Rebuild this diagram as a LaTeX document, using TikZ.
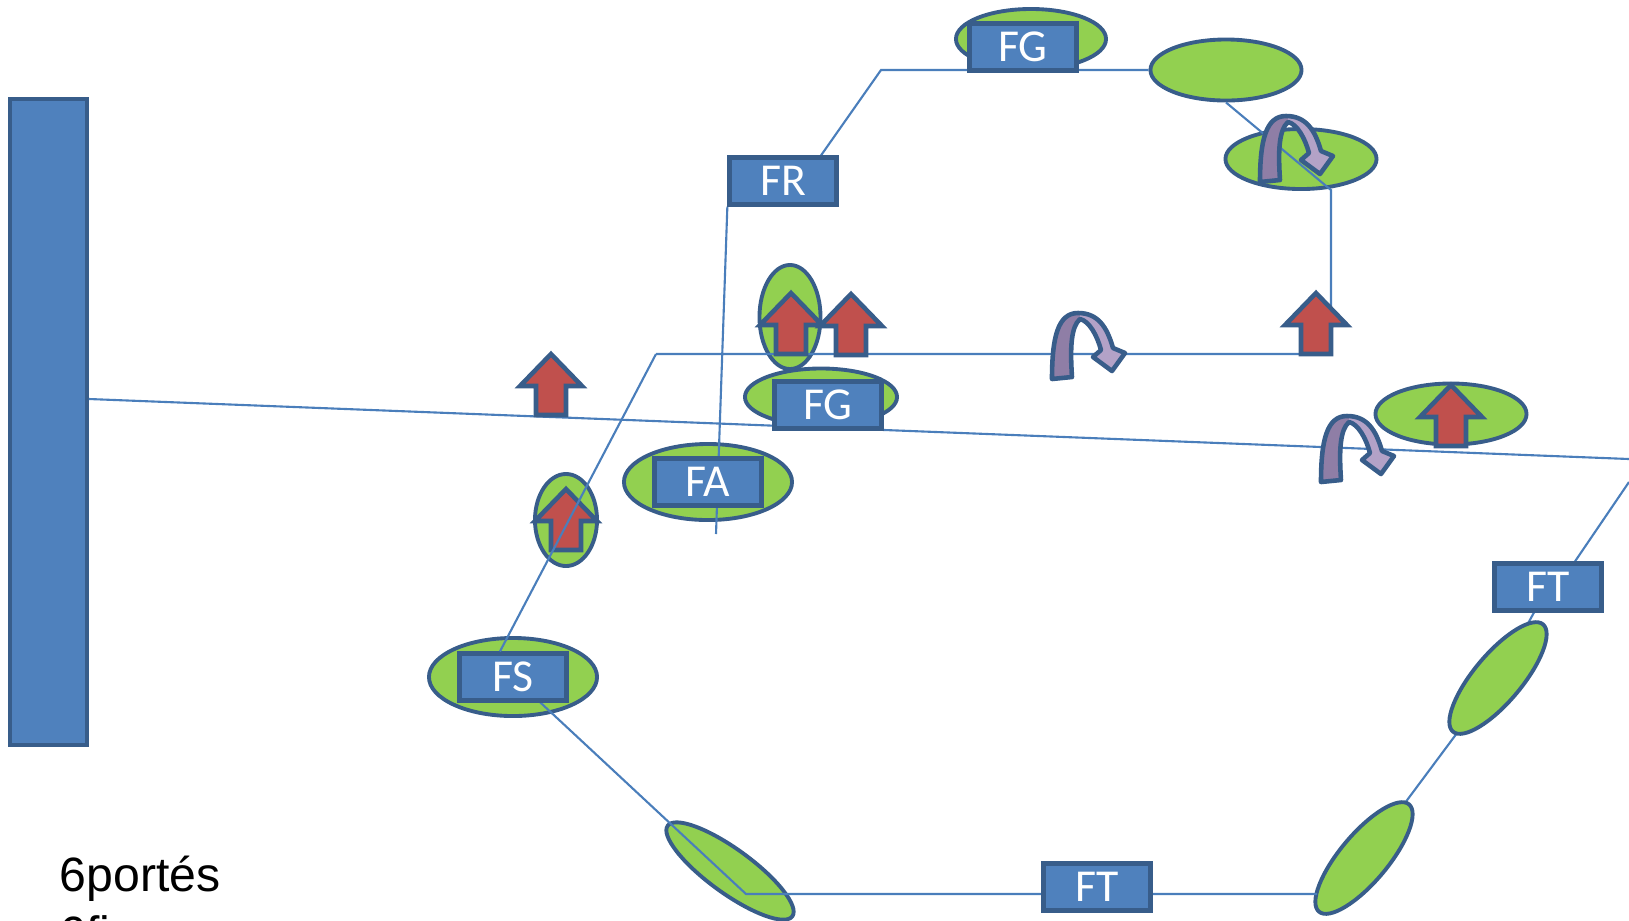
\documentclass[tikz,border=0pt]{standalone}
\usepackage{fontspec}
\newfontfamily\tagfont{Carlito}
\newfontfamily\notefont{Liberation Sans}
\usetikzlibrary{shapes.geometric,positioning}
\definecolor{steel}{HTML}{4F81BD}
\definecolor{edge}{HTML}{385D8A}
\definecolor{leaf}{HTML}{92D050}
\definecolor{brick}{HTML}{C0504D}
\definecolor{wire}{HTML}{4A7EBB}
\definecolor{lilac}{HTML}{B3A2C7}
\definecolor{lilacdark}{HTML}{8F7EA6}
\pgfdeclarelayer{back}
\pgfdeclarelayer{front}
\pgfsetlayers{back,main,front}

\begin{document}
\begin{tikzpicture}[
        x=0.01cm, y=-0.01cm,
        pad/.style={ellipse, draw=edge, fill=leaf, line width=1.1pt, inner sep=0pt},
        tag/.style={rectangle, draw=edge, fill=steel, line width=1.2pt, inner sep=0pt,
            minimum width=1.07cm, minimum height=0.47cm, text=white,
            font=\tagfont\fontsize{13}{14}\selectfont},
        wallbar/.style={rectangle, draw=edge, fill=steel, line width=1pt,
            minimum width=0.77cm, minimum height=6.46cm},
        link/.style={draw=wire, line width=0.6pt},
        note/.style={inner sep=0pt, anchor=base west, font=\notefont\fontsize{13.7}{15}\selectfont},
        lift/.pic={\filldraw[fill=brick, draw=edge, line width=1.3pt]
            (0,1) -- (31,33) -- (15,33) -- (15,62) -- (-15,62) -- (-15,33) -- (-31,33) -- cycle;},
        uturn/.pic={\filldraw[fill=lilac, draw=edge, line width=1.3pt, line join=round,
            path picture={\fill[lilacdark] (path picture bounding box.south west)
                rectangle ([xshift=0.28cm]path picture bounding box.north west);}]
            (-10,2) -- (10,0) .. controls (8,-30) and (9,-50) .. (18,-58)
            .. controls (27,-56) and (35,-42) .. (39,-27) -- (31,-20) -- (50,-6)
            -- (63,-24) -- (51,-29) .. controls (45,-50) and (36,-64) .. (16,-64)
            .. controls (-4,-64) and (-10,-40) .. (-10,2) -- cycle;},
    ]
	\useasboundingbox (0,0) rectangle (1629,920);

	\node[wallbar] (wall) at (48.5,422) {};

	\node[pad, minimum width=1.50cm, minimum height=0.60cm] (p_fg_a) at (1031,39) {};
	\node[pad, minimum width=1.51cm, minimum height=0.61cm] (p_top) at (1226,70) {};
	\node[pad, minimum width=1.51cm, minimum height=0.60cm] (p_turn) at (1301,159) {};
	\node[pad, minimum width=0.61cm, minimum height=1.04cm] (p_up) at (790,317) {};
	\node[pad, minimum width=1.52cm, minimum height=0.57cm] (p_fg_b) at (821,397) {};
	\node[pad, minimum width=1.68cm, minimum height=0.76cm] (p_fa) at (708,482) {};
	\node[pad, minimum width=0.62cm, minimum height=0.92cm] (p_left) at (566,520) {};
	\node[pad, minimum width=1.68cm, minimum height=0.78cm] (p_fs) at (513,677) {};
	\node[pad, minimum width=1.51cm, minimum height=0.61cm] (p_right) at (1451,414) {};
	\node[pad, minimum width=1.54cm, minimum height=0.44cm, rotate=-36] (p_low) at (730,871) {};
	\node[pad, minimum width=1.40cm, minimum height=0.48cm, rotate=50] (p_br_a) at (1364,858) {};
	\node[pad, minimum width=1.40cm, minimum height=0.48cm, rotate=50] (p_br_b) at (1498,678) {};

	\begin{pgfonlayer}{front}
	\node[tag] (t_fg_a) at (1023,47) {FG};
	\node[tag] (t_fr) at (783,181) {FR};
	\node[tag] (t_fg_b) at (828,405) {FG};
	\node[tag] (t_fa) at (708,482) {FA};
	\node[tag] (t_fs) at (513,677) {FS};
	\node[tag] (t_ft_a) at (1097,887) {FT};
	\node[tag] (t_ft_b) at (1548,587) {FT};
	\end{pgfonlayer}

	\coordinate (k1) at (656,354);
	\coordinate (k2) at (1331,354);
	\coordinate (k3) at (1331,190);
	\coordinate (k4) at (881,70);
	\coordinate (k5) at (716,534);
	\coordinate (k6) at (746,894);
	\coordinate (k7) at (1317,894);
	\coordinate (k8) at (1629,482);
	\coordinate (k9) at (1629,459);

	\begin{pgfonlayer}{back}
	\draw[link] (k7) -- (p_br_a.center) -- (p_br_b.center) -- (t_ft_b.center);
	\end{pgfonlayer}

	\draw[link] ([yshift=0.23cm]wall.east) -- (k9);
	\draw[link] (k1) -- (k2) -- (k3) -- (p_top.south);
	\draw[link] (p_top) -- (k4) -- ([xshift=0.38cm]t_fr.north);
	\draw[link] (t_fr.south west) -- (k5);
	\draw[link] (t_fs.center) -- (k6) -- (k7);
	\draw[link] ([xshift=0.27cm]t_ft_b.north) -- (k8);

	\begin{pgfonlayer}{front}
	\pic at (551,353) {lift};
	\pic at (566,488) {lift};
	\pic at (791,292) {lift};
	\pic at (851,293) {lift};
	\pic at (1316,292) {lift};
	\pic at (1451,384) {lift};
	\pic at (1062,377) {uturn};
	\pic at (1331,480) {uturn};
	\pic at (1270,180) {uturn};
	\draw[link] ([xshift=-0.13cm]t_fs.north) -- (k1);
	\end{pgfonlayer}

	\node[note] (n_port) at (59,891) {6portés};
	\node[note, below=0.59cm of n_port.base west, anchor=base west] (n_fix) {6fi};
    \end{tikzpicture}
\end{document}
